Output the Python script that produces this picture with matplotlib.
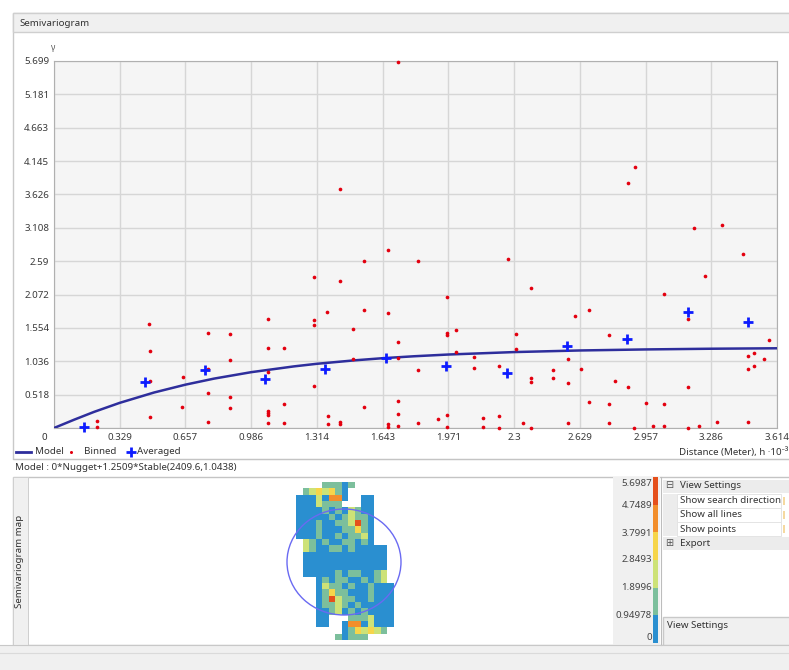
import numpy as np
import matplotlib
matplotlib.use('Agg')
import matplotlib.pyplot as plt
from matplotlib.patches import Rectangle, Ellipse
from matplotlib.colors import ListedColormap

plt.rcParams['font.family'] = ['Noto Sans', 'DejaVu Sans']

W, H = 789, 670

# --- semivariogram (distance in 10^3 m) ---
x_ticks = [0, 0.329, 0.657, 0.986, 1.314, 1.643, 1.971, 2.3, 2.629, 2.957, 3.286, 3.614]
y_ticks = [0, 0.518, 1.036, 1.554, 2.072, 2.59, 3.108, 3.626, 4.145, 4.663, 5.181, 5.699]

binned_x = [0.213, 0.213,
            0.476, 0.478, 0.48, 0.478,
            0.643, 0.641,
            0.771, 0.771, 0.771, 0.771,
            0.88, 0.88, 0.88, 0.88,
            1.068, 1.068, 1.068, 1.068, 1.068, 1.068, 1.068,
            1.15, 1.15, 1.15,
            1.298, 1.298, 1.298, 1.298,
            1.366, 1.368, 1.368,
            1.428, 1.428, 1.428, 1.428,
            1.493, 1.493,
            1.551, 1.551, 1.551,
            1.668, 1.668, 1.668, 1.668,
            1.718, 1.718, 1.718, 1.718, 1.718, 1.718,
            1.82, 1.821, 1.821,
            1.919,
            1.964, 1.964, 1.964, 1.964, 1.964,
            2.01, 2.01,
            2.10, 2.10,
            2.146, 2.146,
            2.226, 2.226, 2.226,
            2.268,
            2.308, 2.308,
            2.343,
            2.384, 2.384, 2.384, 2.384,
            2.496, 2.496,
            2.568, 2.568, 2.568,
            2.604,
            2.636,
            2.672, 2.672,
            2.773, 2.773, 2.773,
            2.804,
            2.871, 2.871,
            2.902, 2.90,
            2.961,
            2.993,
            3.051, 3.051, 3.051,
            3.168, 3.168, 3.168,
            3.199,
            3.226,
            3.254,
            3.313,
            3.34,
            3.443,
            3.469, 3.469, 3.469,
            3.497, 3.497,
            3.55,
            3.573]
binned_y = [0.11, 0.02,
            1.62, 1.20, 0.73, 0.17,
            0.79, 0.33,
            1.475, 0.92, 0.55, 0.09,
            1.465, 1.056, 0.48, 0.31,
            1.70, 1.25, 0.875, 0.27, 0.24, 0.20, 0.07,
            1.25, 0.38, 0.08,
            2.345, 1.68, 1.595, 0.65,
            1.80, 0.19, 0.06,
            3.71, 2.28, 0.09, 0.06,
            1.54, 1.07,
            2.59, 1.83, 0.33,
            2.77, 1.78, 0.06, 0.02,
            5.68, 1.33, 1.08, 0.42, 0.21, 0.025,
            2.59, 0.895, 0.07,
            0.135,
            2.03, 1.48, 1.45, 0.20, 0.015,
            1.52, 1.185,
            1.10, 0.93,
            0.16, 0.015,
            0.96, 0.19, 0.0,
            2.62,
            1.465, 1.23,
            0.07,
            2.18, 0.78, 0.71, 0.0,
            0.895, 0.78,
            1.07, 0.70, 0.07,
            1.74,
            0.91,
            1.84, 0.41,
            1.44, 0.38, 0.07,
            0.725,
            3.81, 0.64,
            4.06, 0.0,
            0.39,
            0.025,
            2.08, 0.38, 0.025,
            1.70, 0.64, 0.0,
            3.11,
            0.025,
            2.36,
            0.10,
            3.15,
            2.70,
            1.12, 0.92, 0.10,
            1.16, 0.97,
            1.07,
            1.36]

avg_x = [0.15, 0.453, 0.755, 1.053, 1.356, 1.661, 1.959, 2.263, 2.564, 2.866, 3.168, 3.469]
avg_y = [0.02, 0.71, 0.895, 0.76, 0.91, 1.087, 0.97, 0.855, 1.27, 1.38, 1.80, 1.645]

model_x = [0, 0.1, 0.2, 0.329, 0.5, 0.657, 0.8, 0.986, 1.2, 1.314, 1.5, 1.643,
           1.8, 1.971, 2.3, 2.629, 2.957, 3.286, 3.614]
model_y = [0, 0.128, 0.250, 0.391, 0.551, 0.673, 0.767, 0.867, 0.957, 0.997, 1.050, 1.084,
           1.114, 1.141, 1.179, 1.204, 1.220, 1.231, 1.238]

model_text = 'Model : 0*Nugget+1.2509*Stable(2409.6,1.0438)'

# --- semivariogram map: class per cell, '.' = empty ---
map_rows = [
    "....11101......",
    ".1232310.......",
    "00020440..00...",
    "0002111...00...",
    "000010102100...",
    "000001012110...",
    "000100112510...",
    "000100011310...",
    "000100101120...",
    ".21010011010...",
    ".2100110100000.",
    ".0000000000000.",
    ".0000000000000.",
    ".0000000000000.",
    ".0000010110012.",
    "...01011001012.",
    "...021101001000",
    "...013110001000",
    "...015211001000",
    "...011210100000",
    "...001201010000",
    "...00...1112000",
    "...00..04402000",
    ".......0132321.",
    "......10111....",
]
class_labels = ['5.6987', '4.7489', '3.7991', '2.8493', '1.8996', '0.94978', '0']
class_colors = ['#2a8fd0', '#7cbf9c', '#cde277', '#f6d54a', '#f28e2b', '#e5501c']

panel_items = ['Show search direction', 'Show all lines', 'Show points']

fig = plt.figure(figsize=(W / 100, H / 100), dpi=100)
fig.patch.set_facecolor('white')

# background "window" drawn in pixel coordinates
bg = fig.add_axes([0, 0, 1, 1], zorder=0)
bg.axis('off')


def box(x0, y0, x1, y1, fc='none', ec='none', lw=0.72):
    bg.add_patch(Rectangle((x0, y0), x1 - x0, y1 - y0, facecolor=fc, edgecolor=ec, lw=lw))


def hline(y, x0, x1, c='#cfcfcf'):
    bg.plot([x0, x1], [y, y], color=c, lw=0.8)


def vline(x, y0, y1, c='#cfcfcf'):
    bg.plot([x, x], [y0, y1], color=c, lw=0.8)


txt = dict(fontsize=7, color='#333333', va='center')

# top panel frame + title bar
box(13, 13, 795, 459, fc='white', ec='#c9c9c9', lw=1)
box(13, 13, 795, 32, fc='#f0f0f0', ec='#cfcfcf', lw=1)
bg.text(19, 23, 'Semivariogram', **txt)
bg.text(53, 47, 'γ', fontsize=6, color='#555555', va='center', ha='center')
bg.text(44, 437, '0', ha='center', **txt)

# legend row
bg.plot([16, 31], [452, 452], color='#2e2e9c', lw=2)
bg.text(35, 452, 'Model', **txt)
bg.plot([71], [452], 'o', ms=2.2, color='#e3000f', mew=0)
bg.text(84, 452, 'Binned', **txt)
bg.plot([131], [452], '+', ms=7, mew=2, color='#0d1cff')
bg.text(137, 452, 'Averaged', **txt)
bg.text(679, 452, 'Distance (Meter), h ·10⁻³', **txt)

# model text row
hline(459, 13, 789, '#c4c4c4')
bg.text(15, 467, model_text, **txt)

# lower panel
box(13, 477, 795, 645, fc='white', ec='#c4c4c4', lw=1)
box(13, 477, 28, 645, fc='#f0f0f0', ec='#cfcfcf')
bg.text(20, 561, 'Semivariogram map', rotation=90, ha='center', fontsize=7,
        color='#333333', va='center')

grid = np.array([[np.nan if ch == '.' else int(ch) for ch in row] for row in map_rows])
bg.imshow(grid, cmap=ListedColormap(class_colors), vmin=-0.5, vmax=5.5,
          extent=(295.7, 393, 639.7, 482.7), origin='upper', aspect='auto',
          interpolation='nearest', zorder=2)
bg.add_patch(Ellipse((344, 562), 114, 106, fill=False, ec='#6a6af2', lw=1, zorder=3))

# colour bar
box(613, 477, 660, 645, fc='#f0f0f0')
seg = (643 - 477) / len(class_colors)
for i, c in enumerate(class_colors):
    box(653, 643 - (i + 1) * seg, 658, 643 - i * seg, fc=c)
label_y = [483, 505, 533, 560, 588, 615, 638]
for lab, y in zip(class_labels, label_y):
    bg.text(652, y, lab, ha='right', fontsize=7, color='#444444', va='center')
vline(661, 477, 645, '#bdbdbd')

# property panel
box(663, 480, 795, 493, fc='#ececec')
bg.text(669, 486, '⊟', fontsize=7, color='#555555', va='center', ha='center')
bg.text(680, 486, 'View Settings', fontweight='bold', **txt)
for i, item in enumerate(panel_items):
    y = 500.5 + i * 14.4
    box(663, y - 7, 677, y + 7, fc='#ececec')
    box(677, y - 7, 781, y + 7, fc='white', ec='#e4e4e4')
    box(783, y - 4, 785, y + 4, fc='#f5d9a0')
    bg.text(680, y, item, **txt)
box(663, 537, 795, 550, fc='#ececec')
bg.text(669, 544, '⊞', fontsize=7, color='#555555', va='center', ha='center')
bg.text(680, 544, 'Export', fontweight='bold', **txt)
box(663, 617, 795, 645, fc='#f0f0f0', ec='#c9c9c9', lw=1)
bg.text(667, 626, 'View Settings', fontweight='bold', **txt)

# bottom status strip
box(0, 645, 795, 670, fc='#f0f0f0')
hline(645, 0, 789, '#c8c8c8')
hline(653, 0, 789, '#dadada')

bg.set_xlim(0, W)
bg.set_ylim(H, 0)

# main semivariogram plot
ax = fig.add_axes([54 / W, 1 - 428 / H, 723 / W, 367 / H], zorder=2)
ax.set_facecolor('#f5f5f5')
ax.set_xlim(0, 3.614)
ax.set_ylim(0, 5.699)
ax.set_xticks(x_ticks)
ax.set_xticklabels(['' if v == 0 else str(v) for v in x_ticks])
ax.set_yticks(y_ticks)
ax.set_yticklabels(['' if v == 0 else str(v) for v in y_ticks])
ax.tick_params(length=0, labelsize=7, labelcolor='#3a3a3a', pad=3.5)
ax.grid(True, color='#d6d6d6', lw=1)
ax.set_axisbelow(True)
for s in ax.spines.values():
    s.set_color('#b0b0b0')

ax.plot(model_x, model_y, color='#2e2e9c', lw=1.8, zorder=3)
ax.scatter(binned_x, binned_y, s=7, color='#e3000f', lw=0, zorder=4, clip_on=False)
ax.plot(avg_x, avg_y, '+', ms=7, mew=2, color='#0d1cff', zorder=5, clip_on=False)

fig.savefig('out.png', dpi=100)
